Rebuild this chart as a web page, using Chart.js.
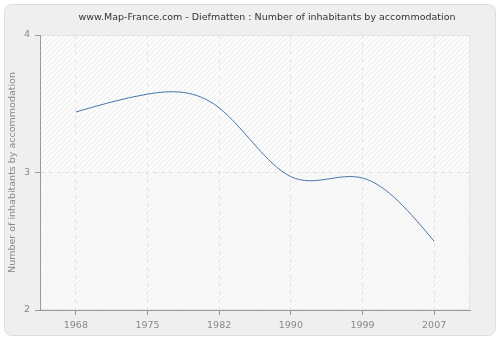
<!DOCTYPE html>
<html>
<head>
<meta charset="utf-8">
<script src="https://cdn.jsdelivr.net/npm/chart.js@4"></script>
<style>
    html, body { margin: 0; padding: 0; background: #ffffff; }
    #wrap { width: 500px; height: 340px; position: relative; }
</style>
</head>
<body>
<div id="wrap"><canvas id="inhabChart" width="500" height="340"></canvas></div>
<script>
const years = ['1968', '1975', '1982', '1990', '1999', '2007'];
const inhabitants = [3.44, 3.57, 3.47, 2.97, 2.96, 2.50];
const yTicks = [2, 3, 4];
const chartTitle = 'www.Map-France.com - Diefmatten : Number of inhabitants by accommodation';

const FONT = 'DejaVu Sans';

// Hatched stripes for the plot background
function makeHatch(bg, line) {
    const c = document.createElement('canvas');
    c.width = 5;
    c.height = 5;
    const g = c.getContext('2d');
    g.fillStyle = bg;
    g.fillRect(0, 0, 5, 5);
    g.strokeStyle = line;
    g.lineWidth = 1;
    g.beginPath();
    g.moveTo(-1, 6); g.lineTo(6, -1);
    g.moveTo(-1, 1); g.lineTo(1, -1);
    g.moveTo(4, 6); g.lineTo(6, 4);
    g.stroke();
    return g.createPattern(c, 'repeat');
}

const backgroundPlugin = {
    id: 'cardBackground',
    beforeDraw(chart) {
        const ctx = chart.ctx;
        const area = chart.chartArea;
        ctx.save();
        // outer card
        ctx.fillStyle = '#efefef';
        ctx.strokeStyle = '#dedede';
        ctx.lineWidth = 1;
        ctx.beginPath();
        ctx.roundRect(4.5, 4.5, 491, 331, 7);
        ctx.fill();
        ctx.stroke();
        // plot area: upper band a bit more visible than the lower one
        const y3 = chart.scales.y.getPixelForValue(3);
        ctx.fillStyle = makeHatch('#fcfcfc', '#ebebeb');
        ctx.fillRect(area.left, area.top, area.right - area.left, y3 - area.top);
        ctx.fillStyle = makeHatch('#f9f9f9', '#f2f2f2');
        ctx.fillRect(area.left, y3, area.right - area.left, area.bottom - y3);
        ctx.strokeStyle = '#e6e6e6';
        ctx.strokeRect(area.left + 0.5, area.top + 0.5, area.right - area.left - 1, area.bottom - area.top - 1);
        // title, centred a little right of the plot like the original
        ctx.fillStyle = '#333';
        ctx.font = '9.5px "' + FONT + '"';
        ctx.textAlign = 'center';
        ctx.textBaseline = 'middle';
        ctx.fillText(chartTitle, 267, 18);
        ctx.restore();
    }
};

// Natural cubic spline control points (in pixel space) instead of the default tension curve
const splinePlugin = {
    id: 'naturalSpline',
    beforeDatasetDraw(chart, args) {
        const meta = args.meta;
        const pts = meta.data;
        const n = pts.length;
        if (n < 3) return;
        const h = [];
        for (let i = 0; i < n - 1; i++) h.push(pts[i + 1].x - pts[i].x);
        // solve tridiagonal system for second derivatives
        const a = new Array(n).fill(0), b = new Array(n).fill(1), c = new Array(n).fill(0), d = new Array(n).fill(0);
        for (let i = 1; i < n - 1; i++) {
            a[i] = h[i - 1];
            b[i] = 2 * (h[i - 1] + h[i]);
            c[i] = h[i];
            d[i] = 6 * ((pts[i + 1].y - pts[i].y) / h[i] - (pts[i].y - pts[i - 1].y) / h[i - 1]);
        }
        for (let i = 1; i < n; i++) {
            const m = a[i] / b[i - 1];
            b[i] -= m * c[i - 1];
            d[i] -= m * d[i - 1];
        }
        const M = new Array(n).fill(0);
        M[n - 1] = d[n - 1] / b[n - 1];
        for (let i = n - 2; i >= 0; i--) M[i] = (d[i] - c[i] * M[i + 1]) / b[i];
        // slopes at knots
        const s = [];
        for (let i = 0; i < n - 1; i++) {
            s.push((pts[i + 1].y - pts[i].y) / h[i] - h[i] * (2 * M[i] + M[i + 1]) / 6);
        }
        s.push((pts[n - 1].y - pts[n - 2].y) / h[n - 2] + h[n - 2] * (M[n - 2] + 2 * M[n - 1]) / 6);
        for (let i = 0; i < n; i++) {
            const hb = i > 0 ? h[i - 1] / 3 : 0;
            const hf = i < n - 1 ? h[i] / 3 : 0;
            pts[i].cp1x = pts[i].x - hb;
            pts[i].cp1y = pts[i].y - s[i] * hb;
            pts[i].cp2x = pts[i].x + hf;
            pts[i].cp2y = pts[i].y + s[i] * hf;
        }
        meta.dataset._pointsUpdated = true;
    }
};

const ctx = document.getElementById('inhabChart').getContext('2d');
new Chart(ctx, {
    type: 'line',
    data: {
        labels: years,
        datasets: [{
            label: 'Number of inhabitants by accommodation',
            data: inhabitants,
            borderColor: '#4a76a8',
            borderWidth: 1,
            fill: false,
            pointRadius: 0,
            tension: 0.4
        }]
    },
    options: {
        responsive: false,
        animation: false,
        layout: {
            padding: { left: 0, right: 30, top: 35, bottom: 0 }
        },
        plugins: {
            legend: { display: false },
            tooltip: { enabled: false },
            title: { display: false }
        },
        scales: {
            x: {
                offset: true,
                grid: {
                    offset: false,
                    color: '#e2e2e2',
                    tickLength: 5,
                    tickColor: '#999'
                },
                border: { color: '#999', dash: [4, 4] },
                ticks: {
                    color: '#888',
                    padding: 5,
                    font: { family: FONT, size: 9.5 }
                },
                afterFit(scale) { scale.height = 30; }
            },
            y: {
                min: 2,
                max: 4,
                afterBuildTicks(scale) {
                    scale.ticks = yTicks.map(v => ({ value: v }));
                },
                grid: {
                    color: '#e2e2e2',
                    tickLength: 5,
                    tickColor: '#999'
                },
                border: { color: '#999', dash: [4, 4] },
                ticks: {
                    color: '#888',
                    padding: 5,
                    font: { family: FONT, size: 9.5 }
                },
                title: {
                    display: true,
                    text: 'Number of inhabitants by accommodation',
                    color: '#888',
                    font: { family: FONT, size: 9.5 },
                    padding: { top: 7, bottom: 0 }
                },
                afterFit(scale) { scale.width = 40; }
            }
        }
    },
    plugins: [backgroundPlugin, splinePlugin]
});
</script>
</body>
</html>
